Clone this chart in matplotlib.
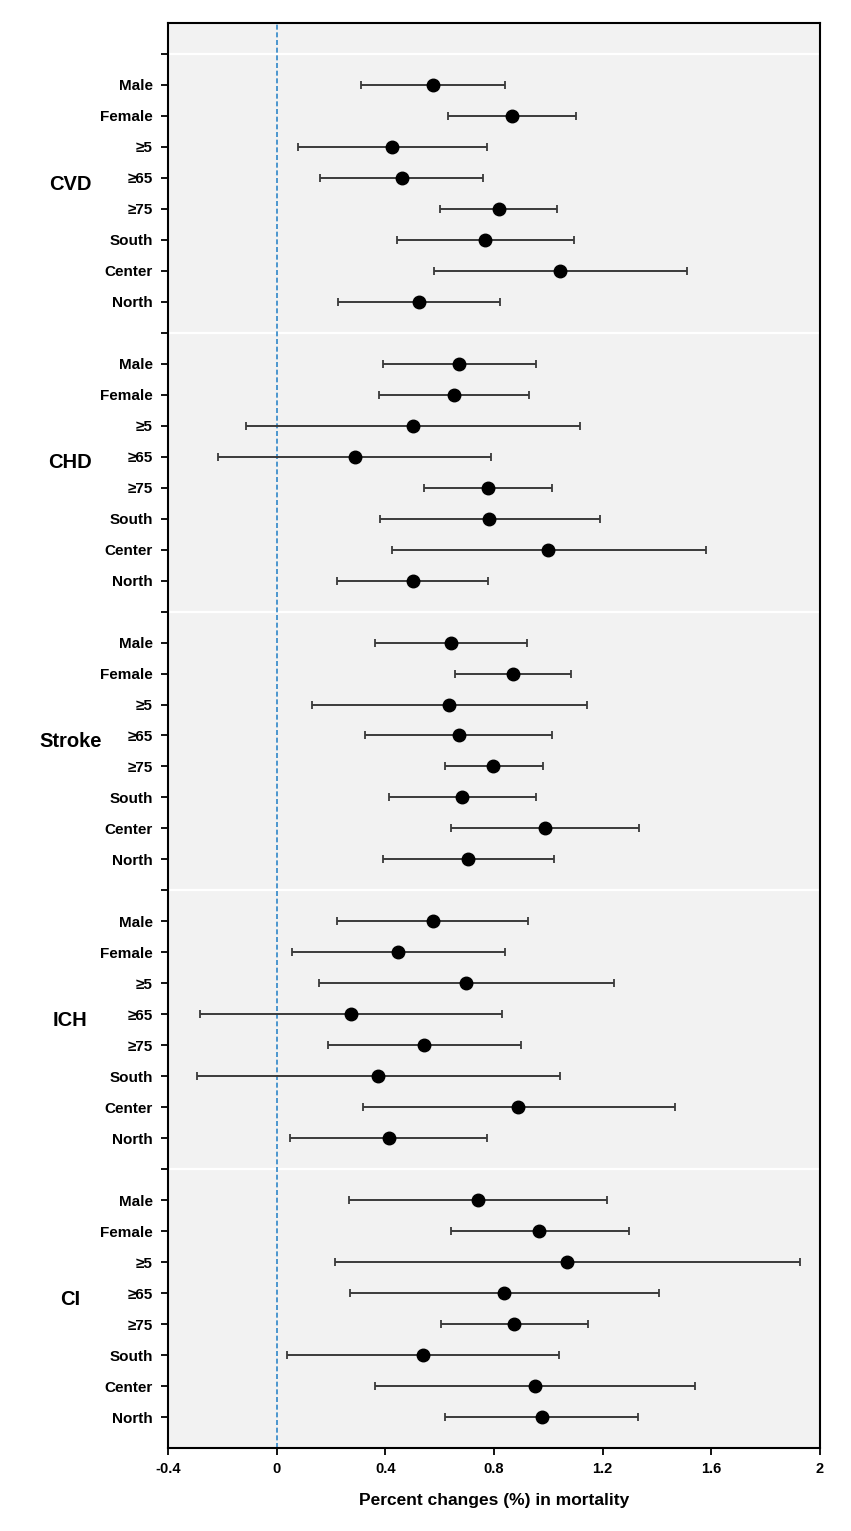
import matplotlib
matplotlib.use('Agg')
import matplotlib.pyplot as plt
import matplotlib.transforms as mtransforms

plt.rcParams['font.family'] = ['Liberation Sans', 'DejaVu Sans']

SUBGROUPS = ['Male', 'Female', '≥5', '≥65', '≥75', 'South', 'Center', 'North']
OUTCOMES = ['CVD', 'CHD', 'Stroke', 'ICH', 'CI']

# point estimate, lower and upper 95% CI (percent change in mortality)
cvd_est = [0.576, 0.866, 0.424, 0.461, 0.817, 0.768, 1.044, 0.524]
cvd_lo = [0.311, 0.631, 0.077, 0.159, 0.603, 0.443, 0.580, 0.226]
cvd_hi = [0.842, 1.101, 0.774, 0.760, 1.033, 1.095, 1.511, 0.822]

chd_est = [0.672, 0.651, 0.500, 0.287, 0.778, 0.782, 1.000, 0.500]
chd_lo = [0.390, 0.375, -0.112, -0.215, 0.543, 0.379, 0.424, 0.222]
chd_hi = [0.954, 0.929, 1.117, 0.790, 1.014, 1.189, 1.580, 0.779]

stroke_est = [0.640, 0.869, 0.636, 0.670, 0.798, 0.683, 0.987, 0.705]
stroke_lo = [0.361, 0.658, 0.131, 0.326, 0.618, 0.413, 0.640, 0.391]
stroke_hi = [0.920, 1.082, 1.142, 1.014, 0.979, 0.954, 1.333, 1.022]

ich_est = [0.574, 0.448, 0.696, 0.274, 0.544, 0.374, 0.890, 0.413]
ich_lo = [0.222, 0.055, 0.155, -0.281, 0.188, -0.292, 0.319, 0.049]
ich_hi = [0.924, 0.839, 1.240, 0.831, 0.899, 1.043, 1.465, 0.776]

ci_est = [0.740, 0.967, 1.068, 0.838, 0.875, 0.538, 0.950, 0.975]
ci_lo = [0.267, 0.640, 0.215, 0.270, 0.606, 0.038, 0.361, 0.620]
ci_hi = [1.216, 1.297, 1.927, 1.407, 1.147, 1.041, 1.541, 1.330]

groups = [
    (cvd_est, cvd_lo, cvd_hi),
    (chd_est, chd_lo, chd_hi),
    (stroke_est, stroke_lo, stroke_hi),
    (ich_est, ich_lo, ich_hi),
    (ci_est, ci_lo, ci_hi),
]

fig = plt.figure(figsize=(8.51, 15.31), dpi=100)
ax = fig.add_axes([0.1974, 0.0542, 0.7662, 0.9308])
ax.set_facecolor('#f2f2f2')

step = len(SUBGROUPS) + 1
ticks, ticklabels = [], []
label_tf = mtransforms.blended_transform_factory(ax.transAxes, ax.transData)
for g, (name, (est, lo, hi)) in enumerate(zip(OUTCOMES, groups)):
    base = g * step
    ax.axhline(base, color='white', linewidth=1.6, zorder=1)
    ticks.append(base)
    ticklabels.append('')
    ys = [base + 1 + i for i in range(len(SUBGROUPS))]
    ticks.extend(ys)
    ticklabels.extend(SUBGROUPS)
    xerr = [[e - l for e, l in zip(est, lo)], [h - e for e, h in zip(est, hi)]]
    ax.errorbar(est, ys, xerr=xerr, fmt='o', color='black', ecolor='#3a3a3a',
                elinewidth=1.4, capsize=3, capthick=1.3, markersize=9, zorder=3)
    ax.text(-0.15, base + 4.2, name, transform=label_tf, ha='center',
            va='center', fontsize=14.5, fontweight='bold')

ax.axvline(0, color='#2f86c8', linestyle=(0, (3, 1.6)), linewidth=1.2, zorder=2)

ax.set_xlim(-0.4, 2)
ax.set_ylim(len(OUTCOMES) * step, -1)
ax.set_xticks([-0.4, 0, 0.4, 0.8, 1.2, 1.6, 2])
ax.set_xticklabels(['-0.4', '0', '0.4', '0.8', '1.2', '1.6', '2'],
                   fontsize=10.5, fontweight='bold')
ax.set_yticks(ticks)
ax.set_yticklabels(ticklabels, fontsize=11, fontweight='bold')
ax.tick_params(axis='y', length=5, width=1.3, pad=6)
ax.tick_params(axis='x', length=5, width=1.3, pad=5)
for s in ax.spines.values():
    s.set_linewidth(1.5)
    s.set_color('black')

ax.set_xlabel('Percent changes (%) in mortality', fontsize=12.5,
              fontweight='bold', labelpad=12)

fig.savefig('out.png', dpi=100)
